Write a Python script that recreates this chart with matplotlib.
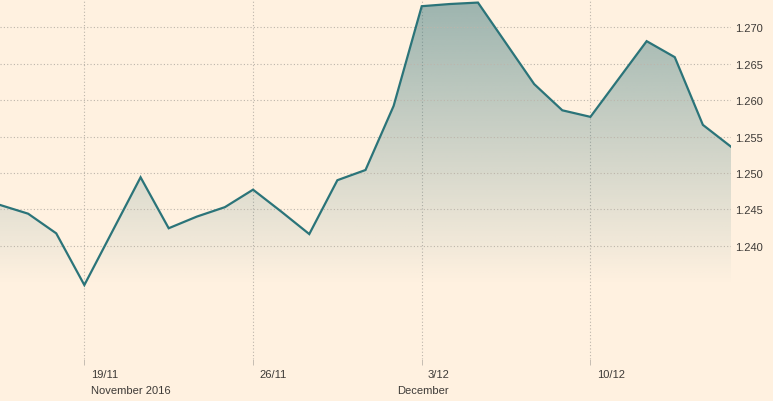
import numpy as np
import matplotlib
matplotlib.use('Agg')
import matplotlib.pyplot as plt
from matplotlib.patches import Polygon
from matplotlib.transforms import blended_transform_factory, ScaledTranslation

# daily values, index based x-axis
values = [1.2456, 1.2444, 1.2417, 1.2346, 1.2420, 1.2494, 1.2424, 1.2440,
          1.2453, 1.2477, 1.2447, 1.2416, 1.2490, 1.2504, 1.2592, 1.2729,
          1.2732, 1.2734, 1.2678, 1.2622, 1.2586, 1.2577, 1.2629, 1.2681,
          1.2659, 1.2566, 1.2536]
week_pos = [3, 9, 15, 21]
week_labels = ['19/11', '26/11', '3/12', '10/12']
month_labels = [(3, 'November 2016', 'left'), (15, 'December', 'center')]
yticks = [1.240, 1.245, 1.250, 1.255, 1.260, 1.265, 1.270]

bg = '#fff1e0'
line_col = '#2b7479'
grid_col = '#bdb5ab'
text_col = '#3d3a37'

plt.rcParams['font.family'] = ['Liberation Sans', 'DejaVu Sans']

fig = plt.figure(figsize=(7.73, 4.02), dpi=100, facecolor=bg)
ax = fig.add_axes([0, 42 / 402, 731 / 773, 360 / 402])
ax.set_facecolor(bg)

x = np.arange(len(values))
ymin, ymax = 1.22444, 1.27389

# gradient fill between the line and the lowest value
lo, hi = min(values), max(values)
grad = np.zeros((256, 2, 4))
grad[..., 0] = 51 / 255
grad[..., 1] = 115 / 255
grad[..., 2] = 122 / 255
grad[..., 3] = np.linspace(0.48, 0.0, 256)[:, None]
im = ax.imshow(grad, extent=[0, len(values) - 1, lo, hi], aspect='auto',
               origin='upper', zorder=1, interpolation='bilinear')
poly = Polygon(np.vstack([[0, lo], np.column_stack([x, values]), [len(values) - 1, lo]]),
               closed=True, facecolor='none', edgecolor='none')
ax.add_patch(poly)
im.set_clip_path(poly)
ax.set_xlim(0, len(values) - 1)
ax.set_ylim(ymin, ymax)

ax.plot(x, values, color=line_col, lw=1.6, zorder=3, solid_joinstyle='miter')

for s in ax.spines.values():
    s.set_visible(False)

ax.set_yticks(yticks)
ax.yaxis.tick_right()
ax.set_yticklabels(['%.3f' % v for v in yticks])
ax.tick_params(axis='y', length=0, pad=3, labelsize=8, labelcolor=text_col)
ax.grid(axis='y', color=grid_col, ls=(0, (1, 2)), lw=0.8, zorder=0)

ax.set_xticks(week_pos)
ax.set_xticklabels([])
ax.tick_params(axis='x', length=4, width=0.6, color=grid_col, direction='out')
for p in week_pos:
    ax.axvline(p, color=grid_col, ls=(0, (1, 2)), lw=0.8, zorder=0)

trans = blended_transform_factory(ax.transData, ax.transAxes)
for p, lab in zip(week_pos, week_labels):
    ax.text(p, 0, lab, transform=trans + ScaledTranslation(4.5 / 72, -11 / 72, fig.dpi_scale_trans),
            ha='left', va='center', fontsize=8, color=text_col)
for p, lab, ha in month_labels:
    dx = 4.5 if ha == 'left' else 1
    ax.text(p, 0, lab, transform=trans + ScaledTranslation(dx / 72, -22.5 / 72, fig.dpi_scale_trans),
            ha=ha, va='center', fontsize=8, color=text_col)

fig.savefig('out.png', dpi=100, facecolor=bg)
